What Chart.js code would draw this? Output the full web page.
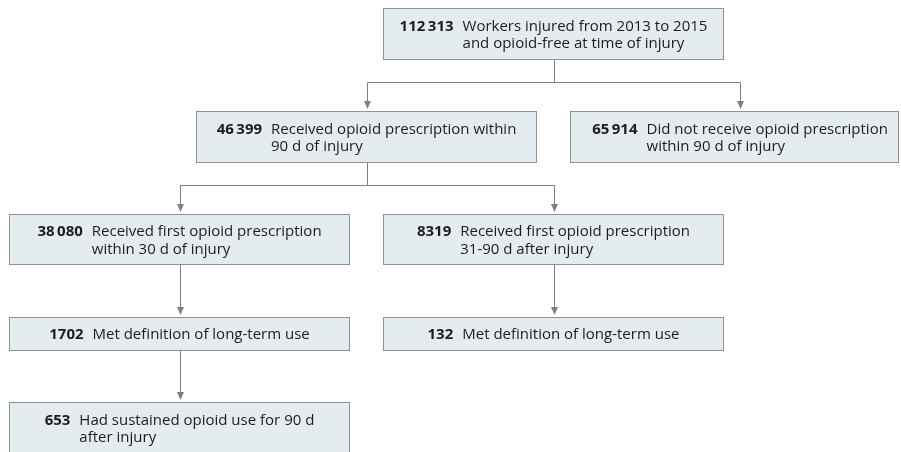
<!DOCTYPE html>
<html><head><meta charset="utf-8">
<script src="https://cdn.jsdelivr.net/npm/chart.js@4.4.1/dist/chart.umd.min.js"></script>
<style>html,body{margin:0;padding:0;background:#fff;overflow:hidden}#wrap{width:901px;height:452px}</style>
</head><body><div id="wrap"><canvas id="c" width="901" height="452"></canvas></div>
<script>
// ---- data ----
const counts = [112313, 46399, 65914, 38080, 8319, 1702, 132, 653];
const descriptions = [
  ["Workers injured from 2013 to 2015", "and opioid-free at time of injury"],
  ["Received opioid prescription within", "90 d of injury"],
  ["Did not receive opioid prescription", "within 90 d of injury"],
  ["Received first opioid prescription", "within 30 d of injury"],
  ["Received first opioid prescription", "31-90 d after injury"],
  ["Met definition of long-term use"],
  ["Met definition of long-term use"],
  ["Had sustained opioid use for 90 d", "after injury"]
];
const links = [[0, [1, 2]], [1, [3, 4]], [3, [5]], [4, [6]], [5, [7]]];

// ---- layout (chart units = pixels of the 901x452 frame) ----
const columnCenters = [179.5, 366.5, 553.5, 740];
const rowSpans = [[8, 60], [111, 163], [214, 265], [317, 351], [402, 458]];
const boxColumn = [2, 1, 3, 0, 2, 0, 2, 0];
const boxRow = [0, 1, 1, 2, 2, 3, 3, 4];
const BOX_W = 341;
const JUNCTION_DROP = 22;

const STYLE = {
  fill: '#e5ecf0', border: '#8c9297', line: '#808080', text: '#1e1b1c',
  font: '"Open Sans", "Noto Sans", sans-serif', size: 15, lineH: 17.5, gap: 9
};

function fmt(n) {
  const s = String(n);
  if (s.length < 5) return s;
  return s.replace(/\B(?=(\d{3})+(?!\d))/g, '\u2009');
}

const flowPlugin = {
  id: 'flow',
  afterDraw(chart) {
    const ctx = chart.ctx, xs = chart.scales.x, ys = chart.scales.y;
    const W = chart.width;
    const box = i => {
      const cx = columnCenters[boxColumn[i]];
      const [t, b] = rowSpans[boxRow[i]];
      let l = Math.round(xs.getPixelForValue(cx - BOX_W / 2));
      let r = Math.round(xs.getPixelForValue(cx + BOX_W / 2));
      if (r > W - 2) r = W - 2;
      return { cx: xs.getPixelForValue(cx), l, r,
        t: Math.round(ys.getPixelForValue(t)), b: Math.round(ys.getPixelForValue(b)) };
    };
    ctx.save();
    // connectors
    ctx.strokeStyle = STYLE.line; ctx.fillStyle = STYLE.line; ctx.lineWidth = 1;
    const arrow = (x, tipY) => {
      ctx.beginPath();
      ctx.moveTo(x - 3.5, tipY - 8); ctx.lineTo(x + 3.5, tipY - 8); ctx.lineTo(x, tipY); ctx.closePath(); ctx.fill();
    };
    const seg = (x1, y1, x2, y2) => { ctx.beginPath(); ctx.moveTo(x1, y1); ctx.lineTo(x2, y2); ctx.stroke(); };
    links.forEach(([p, kids]) => {
      const P = box(p);
      const px = Math.round(P.cx) + 0.5;
      if (kids.length === 1) {
        const C = box(kids[0]);
        seg(px, P.b, px, C.t - 9);
        arrow(px, C.t - 2);
      } else {
        const jy = P.b + JUNCTION_DROP + 0.5;
        seg(px, P.b, px, jy);
        const xsK = kids.map(k => Math.round(box(k).cx) + 0.5);
        seg(Math.min(...xsK), jy, Math.max(...xsK), jy);
        kids.forEach((k, j) => {
          const C = box(k);
          seg(xsK[j], jy, xsK[j], C.t - 9);
          arrow(xsK[j], C.t - 2);
        });
      }
    });
    // boxes
    counts.forEach((n, i) => {
      const B = box(i);
      ctx.fillStyle = STYLE.fill;
      ctx.fillRect(B.l, B.t, B.r - B.l, B.b - B.t);
      ctx.strokeStyle = STYLE.border; ctx.lineWidth = 1;
      ctx.strokeRect(B.l + 0.5, B.t + 0.5, B.r - B.l - 1, B.b - B.t - 1);
      // text
      const lines = descriptions[i];
      const num = fmt(n);
      ctx.font = 'bold ' + STYLE.size + 'px ' + STYLE.font;
      const numW = ctx.measureText(num).width;
      ctx.font = STYLE.size + 'px ' + STYLE.font;
      const lineW = Math.max(...lines.map(s => ctx.measureText(s).width));
      const blockW = numW + STYLE.gap + lineW;
      const x0 = B.cx - blockW / 2;
      const midY = (B.t + (boxRow[i] === 4 ? B.t + 52 : B.b)) / 2;
      const firstY = midY - (lines.length - 1) * STYLE.lineH / 2;
      const capH = STYLE.size * 0.714;
      ctx.fillStyle = STYLE.text; ctx.textBaseline = 'alphabetic'; ctx.textAlign = 'left';
      ctx.font = 'bold ' + STYLE.size + 'px ' + STYLE.font;
      ctx.fillText(num, x0, firstY + capH / 2);
      ctx.font = STYLE.size + 'px ' + STYLE.font;
      lines.forEach((s, k) => ctx.fillText(s, x0 + numW + STYLE.gap, firstY + k * STYLE.lineH + capH / 2));
    });
    ctx.restore();
  }
};

new Chart(document.getElementById('c'), {
  type: 'scatter',
  data: { datasets: [{ data: counts.map((n, i) => ({ x: columnCenters[boxColumn[i]], y: (rowSpans[boxRow[i]][0] + rowSpans[boxRow[i]][1]) / 2 })), pointRadius: 0 }] },
  options: {
    responsive: false, animation: false,
    layout: { padding: 0 },
    plugins: { legend: { display: false }, tooltip: { enabled: false } },
    scales: {
      x: { type: 'linear', min: 0, max: 901, display: false },
      y: { type: 'linear', min: 0, max: 452, reverse: true, display: false }
    }
  },
  plugins: [flowPlugin]
});
</script></body></html>
